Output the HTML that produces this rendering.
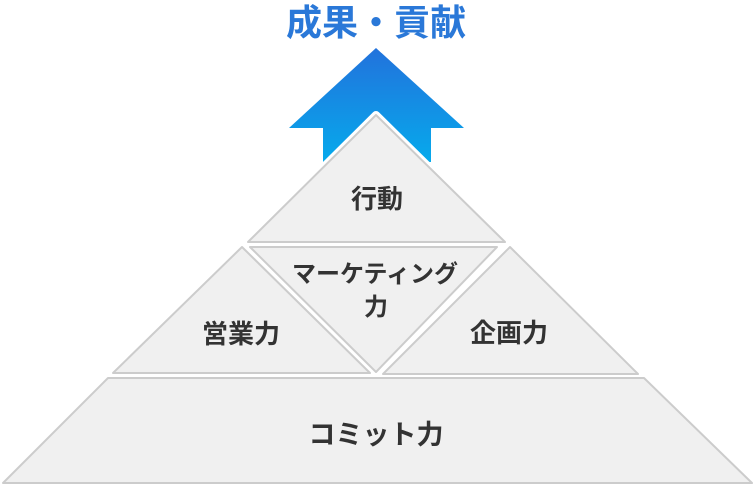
<!DOCTYPE html>
<html><head><meta charset="utf-8"><style>
body{margin:0;background:#fff;}
text{font-family:"Liberation Sans","Noto Sans CJK JP",sans-serif;}
</style></head><body>
<svg width="755" height="485" viewBox="0 0 755 485" xmlns="http://www.w3.org/2000/svg">
<defs><linearGradient id="g" x1="0" y1="0" x2="0" y2="1">
<stop offset="0" stop-color="#2272dc"/><stop offset="1" stop-color="#06aaec"/></linearGradient></defs>
<text x="376" y="35" font-size="36" font-weight="bold" fill="#2a78d8" text-anchor="middle">成果・貢献</text>
<polygon points="376,48 464,128 431,128 431,162 323,162 323,128 289,128" fill="url(#g)"/>
<g fill="#f0f0f0" stroke="#cccccc" stroke-width="2" stroke-linejoin="round">
<polygon points="376,115 505,242 248,242" stroke="#fff" stroke-width="8"/>
<polygon points="376,115 505,242 248,242"/>
<polygon points="250,247 497,247 376,372"/>
<polygon points="242,247 370,373 113,373"/>
<polygon points="510,247 638,374 383,374"/>
<polygon points="108,378 644,378 752,483 3,483"/>
</g>
<g font-size="26" font-weight="bold" fill="#333" text-anchor="middle">
<text x="377" y="208">行動</text>
<text x="375" y="282" font-size="24">マーケティング</text>
<text x="376" y="315" font-size="24">力</text>
<text x="241" y="343">営業力</text>
<text x="509" y="342">企画力</text>
<text x="376" y="444" font-size="27">コミット力</text>
</g>
</svg>
</body></html>
